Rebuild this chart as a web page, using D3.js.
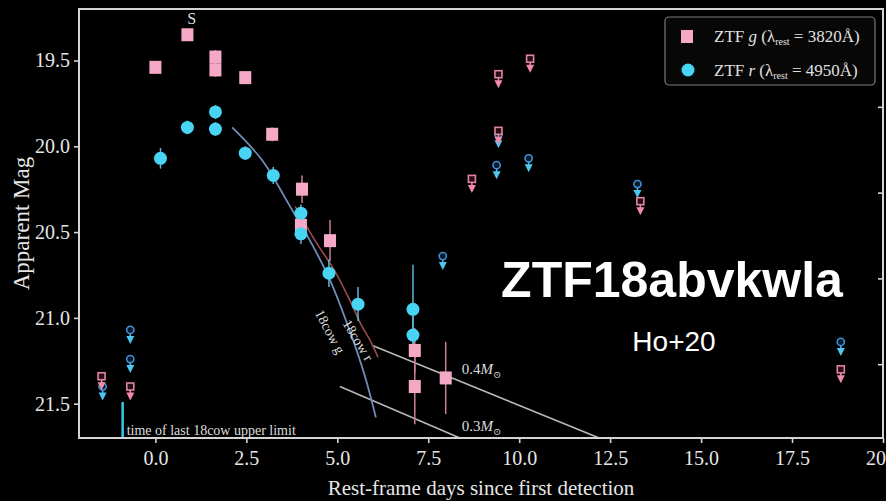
<!DOCTYPE html>
<html>
<head>
<meta charset="utf-8">
<script src="https://cdn.jsdelivr.net/npm/d3@7/dist/d3.min.js"></script>
<style>
  html, body { margin: 0; padding: 0; background: #000; }
  svg { display: block; }
</style>
</head>
<body>
<svg id="chart" width="886" height="501"></svg>
<script>
// ---------------- DATA ----------------
// ZTF g detections
const gDays = [0.0, 0.88, 1.65, 1.65, 2.47, 3.21, 4.03, 4.0, 4.8, 7.13, 7.13, 7.98];
const gMag  = [19.54, 19.35, 19.48, 19.555, 19.60, 19.93, 20.25, 20.46, 20.55, 21.19, 21.40, 21.35];
const gErr  = [0.03, 0.03, 0.04, 0.04, 0.03, 0.04, 0.08, 0.06, 0.12, 0.13, 0.22, 0.21];
// ZTF r detections
const rDays = [0.14, 0.88, 1.65, 1.65, 2.47, 3.24, 4.0, 4.0, 4.77, 5.57, 7.08, 7.08];
const rMag  = [20.07, 19.89, 19.80, 19.90, 20.04, 20.17, 20.39, 20.51, 20.74, 20.92, 20.95, 21.10];
const rErr  = [0.06, 0.04, 0.04, 0.04, 0.04, 0.05, 0.05, 0.06, 0.08, 0.1, 0.26, 0.12];
// upper limits
const gLimDays = [-1.48, -0.69, 8.7, 9.43, 9.43, 10.3, 13.33, 18.84];
const gLimMag  = [21.34, 21.40, 20.19, 19.58, 19.91, 19.49, 20.32, 21.30];
const rLimDays = [-1.45, -0.69, -0.69, 7.9, 9.38, 9.43, 10.26, 13.25, 18.84];
const rLimMag  = [21.40, 21.07, 21.24, 20.64, 20.11, 19.93, 20.07, 20.22, 21.14];
// 18cow comparison curves
const cowGDays = [2.11, 2.93, 3.70, 4.25, 4.80, 5.35, 5.76, 6.06];
const cowGMag  = [19.89, 20.08, 20.35, 20.55, 20.78, 21.08, 21.34, 21.58];
const cowRDays = [3.84, 4.39, 4.94, 5.35, 5.68, 5.90, 6.12];
const cowRMag  = [20.35, 20.55, 20.73, 20.90, 21.05, 21.13, 21.23];
// Ni-mass model lines
const m04Days = [5.95, 12.2];
const m04Mag  = [21.16, 21.70];
const m03Days = [5.07, 8.37];
const m03Mag  = [21.40, 21.70];
const lastLimitDay = -0.9;
const lastLimitTop = 21.49;
// ticks
const xTicks = [0, 2.5, 5, 7.5, 10, 12.5, 15, 17.5, 20];
const yTicks = [19.5, 20.0, 20.5, 21.0, 21.5];
const rightTicks = [19.77, 20.27, 20.77, 21.27];

// ---------------- LAYOUT ----------------
const svg = d3.select("#chart");
const L = 79, R = 883, T = 9, B = 438;
const x = d3.scaleLinear().domain([-2.1, 20.0]).range([L, R]);
const y = d3.scaleLinear().domain([19.2, 21.7]).range([T, B]);

const axisCol = "#d4d4d4";
const gCol = "#f6a9c6", rCol = "#48d4f3";
const serif = "'Liberation Serif', 'DejaVu Serif', serif";

svg.append("rect").attr("width", 886).attr("height", 501).attr("fill", "#000");

svg.append("defs").append("clipPath").attr("id", "plotclip")
  .append("rect").attr("x", L).attr("y", T).attr("width", R - L).attr("height", B - T);

const plot = svg.append("g").attr("clip-path", "url(#plotclip)");

// model lines
const line = d3.line().x(d => x(d[0])).y(d => y(d[1]));
plot.append("path").datum(d3.zip(m04Days, m04Mag)).attr("d", line)
  .attr("fill", "none").attr("stroke", "#b8b8b8").attr("stroke-width", 1.6);
plot.append("path").datum(d3.zip(m03Days, m03Mag)).attr("d", line)
  .attr("fill", "none").attr("stroke", "#b8b8b8").attr("stroke-width", 1.6);

// 18cow curves
const curve = d3.line().x(d => x(d[0])).y(d => y(d[1])).curve(d3.curveCatmullRom);
plot.append("path").datum(d3.zip(cowRDays, cowRMag)).attr("d", curve)
  .attr("fill", "none").attr("stroke", "#9a4a50").attr("stroke-width", 1.6);
plot.append("path").datum(d3.zip(cowGDays, cowGMag)).attr("d", curve)
  .attr("fill", "none").attr("stroke", "#6d8db5").attr("stroke-width", 1.8);

// last upper limit line
plot.append("line")
  .attr("x1", x(lastLimitDay)).attr("x2", x(lastLimitDay))
  .attr("y1", y(lastLimitTop)).attr("y2", y(21.7))
  .attr("stroke", "#3cc6e6").attr("stroke-width", 2.5);

// error bars
const gData = d3.zip(gDays, gMag, gErr);
const rData = d3.zip(rDays, rMag, rErr);
plot.selectAll(".gerr").data(gData).enter().append("line")
  .attr("x1", d => x(d[0])).attr("x2", d => x(d[0]))
  .attr("y1", d => y(d[1] - d[2])).attr("y2", d => y(d[1] + d[2]))
  .attr("stroke", "#c98098").attr("stroke-width", 1.5);
plot.selectAll(".rerr").data(rData).enter().append("line")
  .attr("x1", d => x(d[0])).attr("x2", d => x(d[0]))
  .attr("y1", d => y(d[1] - d[2])).attr("y2", d => y(d[1] + d[2]))
  .attr("stroke", "#5ab6d6").attr("stroke-width", 1.5);

// upper limits
function drawLimits(days, mags, kind) {
  const data = d3.zip(days, mags);
  const gg = plot.selectAll(".lim" + kind).data(data).enter().append("g")
    .attr("transform", d => `translate(${x(d[0])},${y(d[1])})`);
  const arrowCol = kind === "g" ? "#f08aa8" : "#4ec6ef";
  const edgeCol = kind === "g" ? "#e0869e" : "#3f8fd8";
  gg.append("path").attr("d", "M-4,6 L4,6 L0,14 Z").attr("fill", arrowCol);
  gg.append("line").attr("x1", 0).attr("x2", 0).attr("y1", 3).attr("y2", 7)
    .attr("stroke", arrowCol).attr("stroke-width", 1.5);
  if (kind === "g") {
    gg.append("rect").attr("x", -3.5).attr("y", -3.5).attr("width", 7).attr("height", 7)
      .attr("fill", "#2a0d18").attr("stroke", edgeCol).attr("stroke-width", 1.6);
  } else {
    gg.append("circle").attr("r", 3.6)
      .attr("fill", "#081a2c").attr("stroke", edgeCol).attr("stroke-width", 1.6);
  }
}
drawLimits(rLimDays, rLimMag, "r");
drawLimits(gLimDays, gLimMag, "g");

// detections
plot.selectAll(".gpt").data(gData).enter().append("rect")
  .attr("x", d => x(d[0]) - 6).attr("y", d => y(d[1]) - 6.5)
  .attr("width", 12).attr("height", 13).attr("fill", gCol);
plot.selectAll(".rpt").data(rData).enter().append("circle")
  .attr("cx", d => x(d[0])).attr("cy", d => y(d[1])).attr("r", 6.5).attr("fill", rCol);

// ---------------- AXES ----------------
const frame = svg.append("g");
frame.append("rect").attr("x", L).attr("y", T).attr("width", R - L).attr("height", B - T)
  .attr("fill", "none").attr("stroke", axisCol).attr("stroke-width", 2);

const xAxis = svg.append("g").attr("transform", `translate(0,${B})`)
  .call(d3.axisBottom(x).tickValues(xTicks).tickFormat(d3.format(".1f")).tickSize(5).tickPadding(8));
const yAxis = svg.append("g").attr("transform", `translate(${L},0)`)
  .call(d3.axisLeft(y).tickValues(yTicks).tickFormat(d3.format(".1f")).tickSize(5).tickPadding(4));
const yRight = svg.append("g").attr("transform", `translate(${R},0)`)
  .call(d3.axisRight(y).tickValues(rightTicks).tickFormat("").tickSize(-5));
[xAxis, yAxis, yRight].forEach(a => {
  a.select(".domain").remove();
  a.selectAll(".tick line").attr("stroke", axisCol).attr("stroke-width", 1.6);
  a.selectAll(".tick text").attr("fill", "#e6e6e6")
    .style("font-family", serif).style("font-size", "20px");
});

// axis labels
svg.append("text").attr("x", (L + R) / 2).attr("y", 495).attr("text-anchor", "middle")
  .attr("fill", "#e6e6e6").style("font-family", serif).style("font-size", "21px")
  .text("Rest-frame days since first detection");
svg.append("text").attr("transform", `translate(29,${(T + B) / 2}) rotate(-90)`)
  .attr("text-anchor", "middle").attr("fill", "#e6e6e6")
  .style("font-family", serif).style("font-size", "23px")
  .text("Apparent Mag");

// ---------------- ANNOTATIONS ----------------
const ann = svg.append("g").style("font-family", serif).attr("fill", "#dcdcdc");
ann.append("text").attr("x", x(1.0)).attr("y", y(19.255)).attr("dy", "0.35em")
  .attr("text-anchor", "middle").style("font-size", "16px").text("S");
ann.append("text").attr("x", x(lastLimitDay) + 4).attr("y", B - 3)
  .style("font-size", "14px").text("time of last 18cow upper limit");

function massLabel(day, mag, txt) {
  const t = ann.append("text").attr("x", x(day)).attr("y", y(mag)).style("font-size", "15px");
  t.append("tspan").text(txt);
  t.append("tspan").style("font-style", "italic").text("M");
  t.append("tspan").attr("dy", 4).style("font-size", "10px").text("\u2299");
}
massLabel(8.42, 21.326, "0.4");
massLabel(8.42, 21.659, "0.3");

ann.append("text").attr("transform", `translate(${x(4.80)},${y(21.08)}) rotate(62)`)
  .attr("text-anchor", "middle").attr("dy", "0.35em").style("font-size", "14px").text("18cow g");
ann.append("text").attr("transform", `translate(${x(5.57)},${y(21.13)}) rotate(59)`)
  .attr("text-anchor", "middle").attr("dy", "0.35em").style("font-size", "14px").text("18cow r");

// ---------------- LEGEND ----------------
const lg = svg.append("g");
lg.append("rect").attr("x", 665).attr("y", 17).attr("width", 210).attr("height", 68).attr("rx", 4)
  .attr("fill", "#070707").attr("stroke", "#7a7a7a").attr("stroke-width", 1.2);
lg.append("rect").attr("x", 681).attr("y", 30).attr("width", 12).attr("height", 13).attr("fill", gCol);
lg.append("circle").attr("cx", 688).attr("cy", 70).attr("r", 6.5).attr("fill", rCol);
function legendText(yy, band, wl) {
  const t = lg.append("text").attr("x", 714).attr("y", yy).attr("fill", "#e0e0e0")
    .style("font-family", serif).style("font-size", "17px");
  t.append("tspan").text("ZTF ");
  t.append("tspan").style("font-style", "italic").text(band);
  t.append("tspan").text(" (\u03bb");
  t.append("tspan").attr("dy", 3).style("font-size", "10px").text("rest");
  t.append("tspan").attr("dy", -3).text(" = " + wl + "\u00c5)");
}
legendText(42, "g", "3820");
legendText(76, "r", "4950");

// ---------------- OVERLAY TITLE ----------------
svg.append("text").attr("x", 672).attr("y", 297).attr("text-anchor", "middle")
  .attr("fill", "#ffffff").style("font-family", "'Liberation Sans', Arial, sans-serif")
  .style("font-weight", "bold").style("font-size", "50px").text("ZTF18abvkwla");
svg.append("text").attr("x", 674).attr("y", 351).attr("text-anchor", "middle")
  .attr("fill", "#ffffff").style("font-family", "'Liberation Sans', Arial, sans-serif")
  .style("font-size", "28px").text("Ho+20");
</script>
</body>
</html>
